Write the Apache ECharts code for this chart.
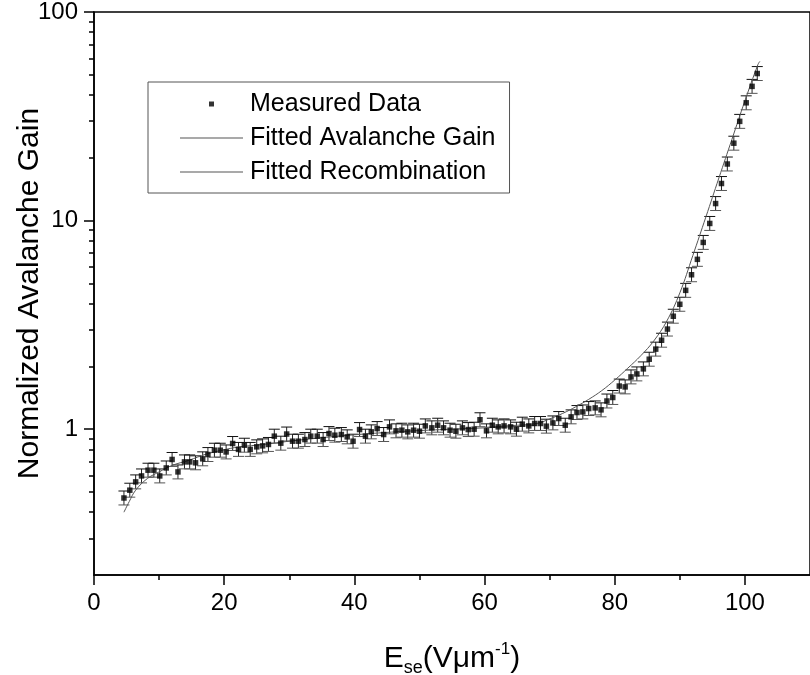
<!DOCTYPE html>
<html>
<head>
<meta charset="utf-8">
<script src="https://cdn.jsdelivr.net/npm/echarts@6/dist/echarts.min.js"></script>
<style>html,body{margin:0;padding:0;background:#fff}#c{width:810px;height:675px}</style>
</head>
<body>
<div id="c"></div>
<script>
// ---- data ----
var fieldX = [4.6,5.5,6.4,7.3,8.3,9.2,10.1,11.1,12.0,12.9,13.9,14.7,15.6,16.7,17.5,18.5,19.4,20.3,21.3,22.2,23.1,24.0,25.0,25.9,26.8,27.7,28.7,29.6,30.5,31.4,32.4,33.3,34.3,35.2,36.1,37.0,38.0,38.9,39.8,40.8,41.7,42.6,43.5,44.5,45.4,46.4,47.3,48.2,49.1,50.0,50.9,51.9,52.8,53.7,54.7,55.6,56.6,57.5,58.4,59.3,60.3,61.2,62.1,63.0,64.0,64.9,65.8,66.8,67.7,68.6,69.5,70.5,71.4,72.4,73.3,74.2,75.1,76.0,77.0,77.9,78.8,79.7,80.7,81.6,82.5,83.4,84.4,85.3,86.3,87.2,88.1,89.0,90.0,90.9,91.8,92.7,93.6,94.6,95.5,96.4,97.3,98.3,99.2,100.2,101.1,101.9];
var gainY = [0.468,0.51,0.559,0.597,0.636,0.636,0.597,0.652,0.716,0.624,0.697,0.697,0.69,0.721,0.756,0.793,0.793,0.778,0.854,0.80,0.838,0.80,0.823,0.832,0.845,0.926,0.857,0.948,0.876,0.876,0.892,0.926,0.926,0.892,0.953,0.936,0.943,0.919,0.876,0.996,0.926,0.971,1.007,0.943,1.026,0.982,0.989,0.971,0.989,0.978,1.037,1.015,1.045,1.015,0.989,0.978,1.015,0.996,1.0,1.11,0.982,1.045,1.026,1.037,1.026,1.0,1.057,1.037,1.065,1.065,1.034,1.072,1.125,1.045,1.146,1.202,1.21,1.256,1.265,1.238,1.365,1.419,1.61,1.595,1.781,1.841,1.946,2.165,2.42,2.67,3.02,3.48,3.97,4.63,5.50,6.52,7.86,9.69,12.07,15.06,18.68,23.5,29.9,36.7,44.0,50.7];
var relErr = 0.08; // relative error bar half-size

var recombX = [4.6,5.4,6.4,8.2,10.0,12.1,14.6,17.2,19.7,22.3,24.9,28.0,30.0,35.0,40.0,45.0,50.0,55.0,60.0,65.0,68.0];
var recombY = [0.40,0.449,0.51,0.58,0.624,0.672,0.71,0.759,0.793,0.823,0.838,0.86,0.876,0.91,0.94,0.965,0.985,1.0,1.015,1.03,1.045];

var avalX = [60,64,68,70,72,74,76,78,80,82,84,86,88,90,92,94,96,98,100,102,102.3];
var avalY = [1.02,1.04,1.065,1.12,1.19,1.28,1.39,1.53,1.72,1.96,2.25,2.65,3.3,4.5,6.8,10.4,16.0,24.5,37.5,56,58];

var xTicks = [0,20,40,60,80,100];
var xMinorTicks = [10,30,50,70,90];
var yTicks = [1,10,100];
var yMinorTicks = [0.3,0.4,0.5,0.6,0.7,0.8,0.9,2,3,4,5,6,7,8,9,20,30,40,50,60,70,80,90];

var names = ['Measured Data','Fitted Avalanche Gain','Fitted Recombination'];

// ---- build ----
var pts = fieldX.map(function(x,i){return [x, gainY[i]];});
var errs = fieldX.map(function(x,i){return [x, gainY[i]*(1+relErr), gainY[i]/(1+relErr)];});
var recomb = recombX.map(function(x,i){return [x, recombY[i]];});
var aval = avalX.map(function(x,i){return [x, avalY[i]];});

var font = 'Liberation Sans, Arial, sans-serif';
var lineIcon = 'path://M0,0L63,0L63,1L0,1Z';
var chart = echarts.init(document.getElementById('c'));
chart.setOption({
  animation: false,
  backgroundColor: '#fff',
  textStyle: {fontFamily: font, color: '#000'},
  grid: {left: 94, right: 0, top: 12, bottom: 100, show: true, borderColor: '#000', borderWidth: 1.5, containLabel: false, outerBoundsMode: 'none'},
  legend: {
    orient: 'vertical', left: 148, top: 82,
    padding: [9, 14, 8, 32],
    borderColor: '#555', borderWidth: 1,
    itemWidth: 63, itemHeight: 5, itemGap: 8,
    textStyle: {fontSize: 25, lineHeight: 26, color: '#000', fontFamily: font, padding: [0,0,0,2]},
    data: [
      {name: names[0], icon: 'path://M0,0L1,0L1,1L0,1Z', itemStyle: {color: '#000'}},
      {name: names[1], icon: lineIcon, itemStyle: {color: '#555'}},
      {name: names[2], icon: lineIcon, itemStyle: {color: '#555'}}
    ]
  },
  xAxis: [{
    type: 'value', min: 0, max: 110, interval: 10,
    name: '{a|E}{sub|se}{a|(Vμm}{sup|-1}{a|)}',
    nameLocation: 'middle', nameGap: 66, nameMoveOverlap: false,
    nameTextStyle: {rich: {
      a: {fontSize: 30, fontFamily: font, color: '#000', lineHeight: 36},
      sub: {fontSize: 18, fontFamily: font, color: '#000', verticalAlign: 'bottom', lineHeight: 14},
      sup: {fontSize: 17, fontFamily: font, color: '#000', verticalAlign: 'top', lineHeight: 14}
    }},
    axisLine: {show: true, onZero: false, lineStyle: {color: '#000', width: 1.5}},
    axisTick: {show: true, inside: false, length: 10, lineStyle: {color: '#000', width: 1.5}, customValues: xTicks},
    minorTick: {show: false},
    axisLabel: {show: true, fontSize: 24, color: '#000', margin: 16, customValues: xTicks},
    splitLine: {show: false}
  }, {
    type: 'value', min: 0, max: 110, position: 'bottom',
    axisLine: {show: false},
    axisTick: {show: true, length: 5, lineStyle: {color: '#000', width: 1.5}, customValues: xMinorTicks},
    axisLabel: {show: false},
    splitLine: {show: false}
  }],
  yAxis: [{
    type: 'log', logBase: 10, min: 0.2, max: 100,
    name: 'Normalized Avalanche Gain',
    nameLocation: 'middle', nameGap: 49, nameMoveOverlap: false,
    nameTextStyle: {fontSize: 30, fontFamily: font, color: '#000'},
    axisLine: {show: true, onZero: false, lineStyle: {color: '#000', width: 1.5}},
    axisTick: {show: true, length: 10, lineStyle: {color: '#000', width: 1.5}, customValues: yTicks},
    axisLabel: {show: true, fontSize: 24, color: '#000', margin: 16, customValues: yTicks, formatter: function(v){return String(+v);} },
    splitLine: {show: false}
  }, {
    type: 'log', logBase: 10, min: 0.2, max: 100, position: 'left',
    axisLine: {show: false},
    axisTick: {show: true, length: 5, lineStyle: {color: '#000', width: 1.5}, customValues: yMinorTicks},
    axisLabel: {show: false},
    splitLine: {show: false}
  }],
  series: [
    {
      type: 'custom', name: 'errbars', silent: true, z: 3,
      xAxisIndex: 0, yAxisIndex: 0,
      data: errs,
      encode: {x: 0, y: [1, 2]},
      renderItem: function(params, api){
        var x = api.value(0);
        var top = api.coord([x, api.value(1)]);
        var bot = api.coord([x, api.value(2)]);
        var hw = 5.5;
        return {type: 'group', children: [
          {type: 'line', shape: {x1: top[0], y1: top[1], x2: bot[0], y2: bot[1]}, style: {stroke: '#222', lineWidth: 1}},
          {type: 'line', shape: {x1: top[0]-hw, y1: top[1], x2: top[0]+hw, y2: top[1]}, style: {stroke: '#111', lineWidth: 1}},
          {type: 'line', shape: {x1: bot[0]-hw, y1: bot[1], x2: bot[0]+hw, y2: bot[1]}, style: {stroke: '#555', lineWidth: 1}}
        ]};
      }
    },
    {
      type: 'scatter', name: names[0], data: pts, symbol: 'rect', symbolSize: 5.5,
      itemStyle: {color: '#000'}, z: 5
    },
    {
      type: 'line', name: names[1], data: aval, smooth: 0.4, symbol: 'none',
      itemStyle: {color: '#555'},
      lineStyle: {color: '#555', width: 1}, z: 4
    },
    {
      type: 'line', name: names[2], data: recomb, smooth: 0.4, symbol: 'none',
      itemStyle: {color: '#555'},
      lineStyle: {color: '#555', width: 1}, z: 4
    }
  ]
});
</script>
</body>
</html>
